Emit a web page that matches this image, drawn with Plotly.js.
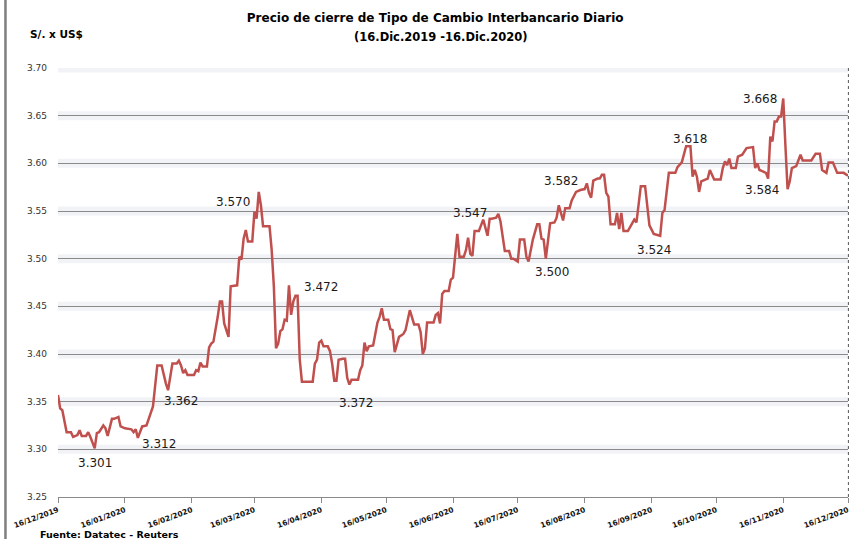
<!DOCTYPE html>
<html><head><meta charset="utf-8">
<script src="https://cdn.plot.ly/plotly-3.0.1.min.js"></script>
<style>html,body{margin:0;padding:0;background:#fff}</style>
</head><body><div id="chart" style="width:850px;height:539px"></div>
<script>
const dates = [
'2019-12-16','2019-12-17','2019-12-18','2019-12-20','2019-12-22','2019-12-23','2019-12-25','2019-12-26','2019-12-27','2019-12-29',
'2019-12-30','2019-12-31','2020-01-02','2020-01-03','2020-01-04','2020-01-06','2020-01-07','2020-01-08','2020-01-10','2020-01-11',
'2020-01-13','2020-01-14','2020-01-16','2020-01-19','2020-01-20','2020-01-21','2020-01-22','2020-01-24','2020-01-26','2020-01-29',
'2020-01-31','2020-02-02','2020-02-04','2020-02-05','2020-02-07','2020-02-09','2020-02-10','2020-02-11','2020-02-12','2020-02-13',
'2020-02-14','2020-02-17','2020-02-18','2020-02-19','2020-02-20','2020-02-21','2020-02-23','2020-02-24','2020-02-25','2020-02-26',
'2020-02-28','2020-02-29','2020-03-01','2020-03-02','2020-03-04','2020-03-05','2020-03-08','2020-03-09','2020-03-10','2020-03-11',
'2020-03-12','2020-03-13','2020-03-15','2020-03-16','2020-03-17','2020-03-18','2020-03-19','2020-03-20','2020-03-23','2020-03-24',
'2020-03-25','2020-03-26','2020-03-27','2020-03-28','2020-03-29','2020-03-30','2020-03-31','2020-04-01','2020-04-02','2020-04-03',
'2020-04-04','2020-04-05','2020-04-06','2020-04-07','2020-04-12','2020-04-13','2020-04-14','2020-04-15','2020-04-16','2020-04-17',
'2020-04-19','2020-04-20','2020-04-21','2020-04-22','2020-04-23','2020-04-24','2020-04-26','2020-04-27','2020-04-28','2020-04-29',
'2020-04-30','2020-05-03','2020-05-04','2020-05-05','2020-05-06','2020-05-07','2020-05-08','2020-05-10','2020-05-12','2020-05-13',
'2020-05-14','2020-05-15','2020-05-17','2020-05-18','2020-05-19','2020-05-20','2020-05-22','2020-05-24','2020-05-25','2020-05-26',
'2020-05-27','2020-05-29','2020-05-31','2020-06-01','2020-06-02','2020-06-03','2020-06-04','2020-06-07','2020-06-08','2020-06-09',
'2020-06-10','2020-06-11','2020-06-12','2020-06-14','2020-06-15','2020-06-16','2020-06-17','2020-06-18','2020-06-19','2020-06-21',
'2020-06-22','2020-06-23','2020-06-24','2020-06-25','2020-06-26','2020-06-28','2020-06-30','2020-07-01','2020-07-02','2020-07-03',
'2020-07-04','2020-07-06','2020-07-07','2020-07-08','2020-07-09','2020-07-10','2020-07-12','2020-07-13','2020-07-14','2020-07-16',
'2020-07-17','2020-07-19','2020-07-20','2020-07-21','2020-07-23','2020-07-25','2020-07-26','2020-07-27','2020-07-28','2020-07-29',
'2020-07-31','2020-08-02','2020-08-03','2020-08-04','2020-08-06','2020-08-07','2020-08-09','2020-08-10','2020-08-12','2020-08-14',
'2020-08-16','2020-08-17','2020-08-18','2020-08-19','2020-08-20','2020-08-22','2020-08-23','2020-08-24','2020-08-25','2020-08-26',
'2020-08-27','2020-08-28','2020-08-30','2020-08-31','2020-09-01','2020-09-02','2020-09-03','2020-09-05','2020-09-07','2020-09-08',
'2020-09-09','2020-09-11','2020-09-13','2020-09-14','2020-09-15','2020-09-17','2020-09-20','2020-09-21','2020-09-22','2020-09-24',
'2020-09-27','2020-09-28','2020-09-30','2020-10-02','2020-10-04','2020-10-05','2020-10-06','2020-10-07','2020-10-08','2020-10-09',
'2020-10-10','2020-10-12','2020-10-13','2020-10-15','2020-10-18','2020-10-19','2020-10-20','2020-10-21','2020-10-22','2020-10-23',
'2020-10-25','2020-10-26','2020-10-28','2020-10-30','2020-11-02','2020-11-03','2020-11-04','2020-11-05','2020-11-06','2020-11-08',
'2020-11-09','2020-11-10','2020-11-11','2020-11-12','2020-11-13','2020-11-14','2020-11-15','2020-11-16','2020-11-17','2020-11-18',
'2020-11-19','2020-11-20','2020-11-22','2020-11-24','2020-11-25','2020-11-29','2020-12-01','2020-12-03','2020-12-04','2020-12-06',
'2020-12-07','2020-12-09','2020-12-11','2020-12-14','2020-12-16'
];
const rates = [
3.357,3.343,3.341,3.318,3.318,3.313,3.315,3.320,3.314,3.314,
3.318,3.313,3.301,3.317,3.318,3.325,3.322,3.314,3.332,3.332,
3.334,3.324,3.322,3.321,3.318,3.321,3.312,3.324,3.325,3.345,
3.388,3.388,3.369,3.362,3.390,3.390,3.393,3.388,3.380,3.383,
3.378,3.378,3.383,3.382,3.391,3.387,3.387,3.407,3.411,3.413,
3.439,3.455,3.455,3.432,3.418,3.471,3.472,3.502,3.499,3.521,
3.530,3.518,3.518,3.549,3.542,3.570,3.556,3.534,3.534,3.509,
3.471,3.406,3.411,3.424,3.426,3.436,3.435,3.472,3.441,3.455,
3.461,3.461,3.394,3.371,3.371,3.390,3.394,3.412,3.414,3.408,
3.408,3.403,3.390,3.372,3.372,3.394,3.395,3.395,3.375,3.368,
3.373,3.373,3.383,3.388,3.412,3.403,3.408,3.409,3.433,3.439,
3.448,3.436,3.436,3.426,3.425,3.402,3.418,3.421,3.425,3.436,
3.446,3.431,3.431,3.423,3.400,3.406,3.433,3.433,3.441,3.443,
3.432,3.463,3.466,3.466,3.478,3.480,3.502,3.526,3.502,3.502,
3.509,3.522,3.505,3.503,3.529,3.529,3.541,3.531,3.524,3.542,
3.542,3.543,3.547,3.539,3.523,3.508,3.508,3.500,3.500,3.497,
3.520,3.520,3.502,3.497,3.520,3.536,3.536,3.521,3.520,3.500,
3.537,3.538,3.543,3.556,3.540,3.553,3.553,3.561,3.570,3.572,
3.573,3.579,3.569,3.564,3.582,3.584,3.584,3.588,3.588,3.569,
3.565,3.536,3.536,3.548,3.531,3.548,3.529,3.529,3.537,3.541,
3.538,3.576,3.576,3.558,3.535,3.526,3.524,3.548,3.551,3.590,
3.590,3.596,3.601,3.618,3.618,3.586,3.593,3.586,3.570,3.581,
3.582,3.584,3.593,3.583,3.583,3.595,3.602,3.598,3.605,3.595,
3.595,3.607,3.609,3.616,3.617,3.595,3.600,3.593,3.592,3.590,
3.584,3.628,3.623,3.644,3.644,3.649,3.649,3.668,3.619,3.573,
3.581,3.595,3.597,3.609,3.603,3.603,3.610,3.610,3.593,3.590,
3.601,3.601,3.590,3.590,3.587
];
const tickDates = ['2019-12-16','2020-01-16','2020-02-16','2020-03-16','2020-04-16','2020-05-16','2020-06-16','2020-07-16','2020-08-16','2020-09-16','2020-10-16','2020-11-16','2020-12-16'];
const tickLabels = ['16/12/2019','16/01/2020','16/02/2020','16/03/2020','16/04/2020','16/05/2020','16/06/2020','16/07/2020','16/08/2020','16/09/2020','16/10/2020','16/11/2020','16/12/2020'];
const yTicks = [3.25,3.30,3.35,3.40,3.45,3.50,3.55,3.60,3.65,3.70];
const noteText = ['3.301','3.312','3.362','3.570','3.472','3.372','3.547','3.582','3.500','3.524','3.618','3.668','3.584'];
const noteDates = ['2020-01-02','2020-02-01','2020-02-11','2020-03-06','2020-04-16','2020-05-02','2020-06-24','2020-08-05','2020-08-01','2020-09-17','2020-10-04','2020-11-05','2020-11-06'];
const noteValues = [3.2857,3.3056,3.3507,3.5594,3.4703,3.3486,3.5479,3.5815,3.486,3.509,3.6255,3.6675,3.572];

const GRID = '#8a8a8a';
const annotations = noteText.map((t,i)=>({
  x: noteDates[i], y: noteValues[i], xref:'x', yref:'y', text:t, showarrow:false,
  xanchor:'center', yanchor:'middle', font:{family:'DejaVu Sans', size:12, color:'#1a1a1a'}
}));
annotations.push({xref:'paper', yref:'paper', x:0.484, y:1.0, yshift:31, xanchor:'center', yanchor:'middle',
  text:'<b>(16.Dic.2019 -16.Dic.2020)</b>', showarrow:false, font:{family:'DejaVu Sans', size:11.5, color:'#000'}});
annotations.push({xref:'paper', yref:'paper', x:-0.0025, y:1.0, yshift:34, xanchor:'center', yanchor:'middle',
  text:'<b>S/. x US$</b>', showarrow:false, font:{family:'DejaVu Sans', size:10.5, color:'#000'}});
annotations.push({xref:'paper', yref:'paper', x:-0.0253, y:0, yshift:-37, xanchor:'left', yanchor:'middle',
  text:'<b>Fuente: Datatec - Reuters</b>', showarrow:false, font:{family:'DejaVu Sans', size:9.5, color:'#000'}});

const shapes = yTicks.filter(v=>v>3.26).map(v=>({
  type:'line', xref:'paper', yref:'y', x0:0, x1:1, y0:v, y1:v, layer:'below',
  line:{color:'rgba(210,217,230,0.32)', width:9}
}));
shapes.push({type:'line', xref:'paper', yref:'paper', x0:-0.0665, x1:-0.0665, y0:-0.1, y1:1.16, line:{color:'#7f7f7f', width:2.5}});
shapes.push({type:'line', xref:'paper', yref:'paper', x0:1.0005, x1:1.0005, y0:0, y1:1, line:{color:'#555', width:1, dash:'dot'}});

const trace = {x:dates, y:rates, type:'scatter', mode:'lines', line:{color:'#C0504D', width:2.5}, hoverinfo:'skip'};

const layout = {
  width:850, height:539, margin:{l:58, r:2, t:68, b:42},
  paper_bgcolor:'#fff', plot_bgcolor:'#fff', showlegend:false,
  title:{text:'<b>Precio de cierre de Tipo de Cambio Interbancario Diario</b>', xref:'container', x:0.512, xanchor:'center',
    yref:'container', y:1-18/539, yanchor:'middle', font:{family:'DejaVu Sans', size:12, color:'#000'}},
  xaxis:{type:'date', range:['2019-12-16','2020-12-16'], tickmode:'array', tickvals:tickDates, ticktext:tickLabels,
    tickangle:-20, ticks:'outside', ticklen:5, tickcolor:GRID, showgrid:false, showline:true, linecolor:GRID, linewidth:1,
    zeroline:false, tickfont:{family:'DejaVu Sans', size:7.5, color:'#111', weight:'bold'}},
  yaxis:{range:[3.25,3.70], tickmode:'array', tickvals:yTicks, tickformat:'.2f', showgrid:true, gridcolor:GRID, gridwidth:1,
    zeroline:false, showline:false, ticks:'', ticklabelstandoff:10, tickfont:{family:'DejaVu Sans', size:9, color:'#333'}},
  annotations:annotations, shapes:shapes
};
Plotly.newPlot('chart',[trace],layout,{displayModeBar:false, staticPlot:true});
</script></body></html>
